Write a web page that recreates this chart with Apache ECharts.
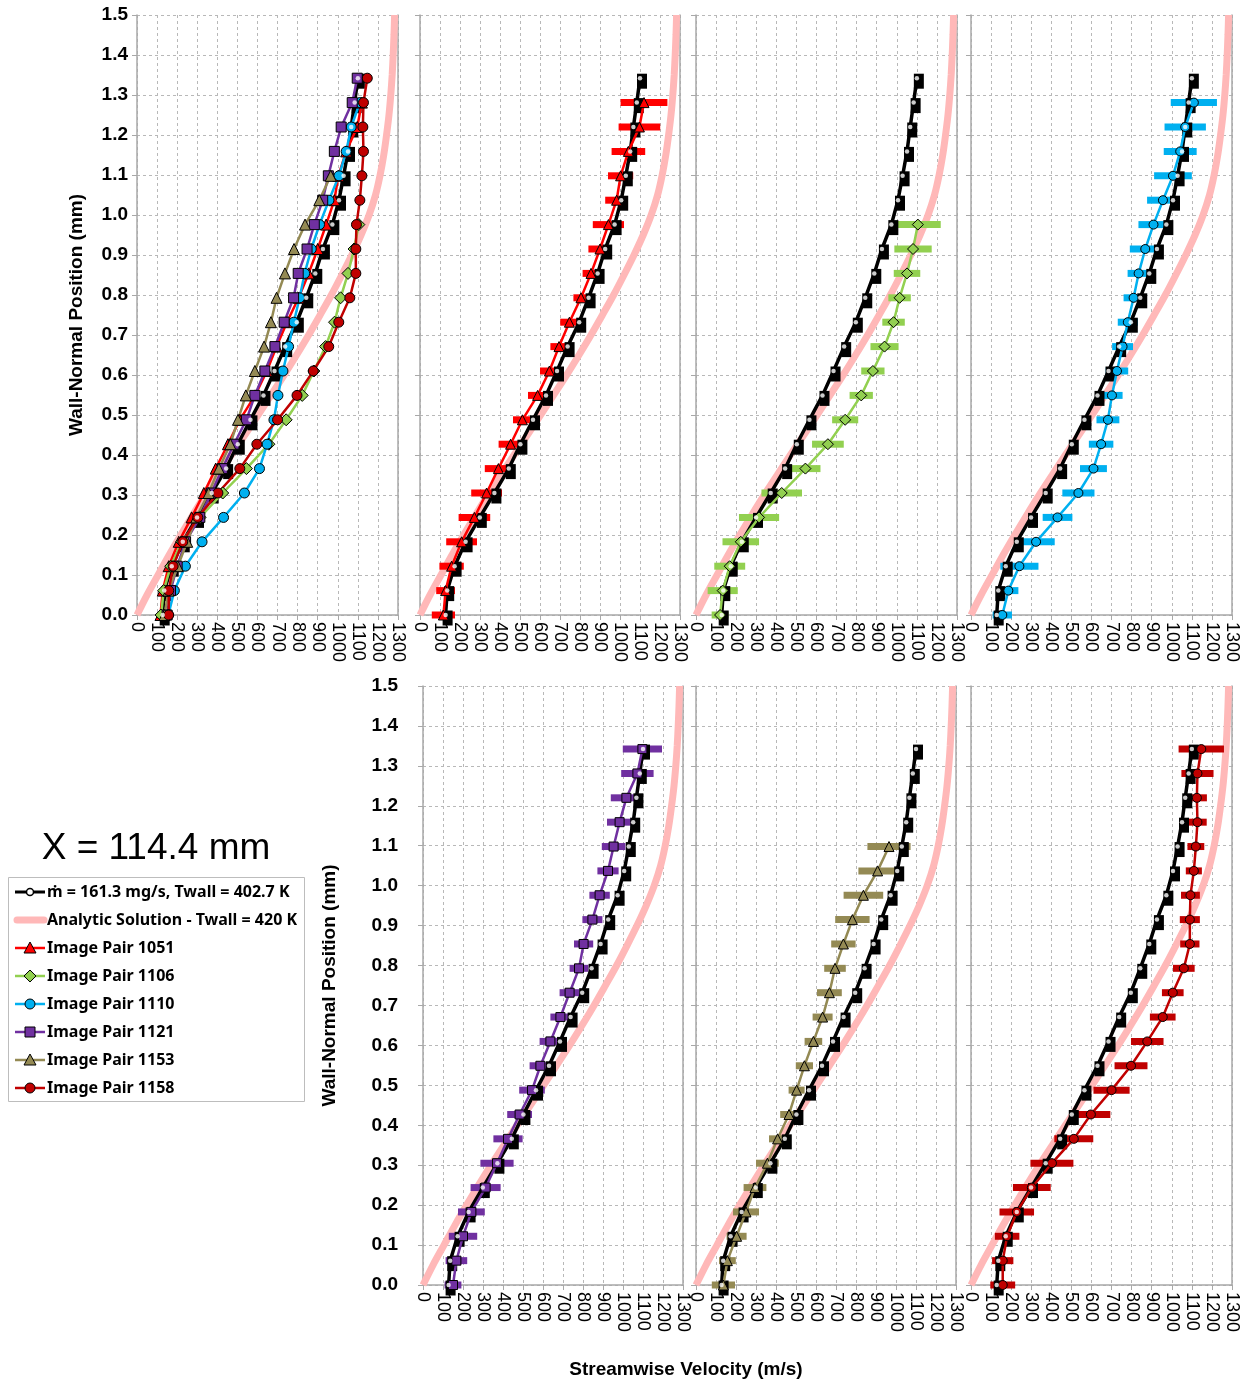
<!DOCTYPE html>
<html><head><meta charset="utf-8">
<script src="https://cdn.jsdelivr.net/npm/echarts@6/dist/echarts.min.js"></script>
<style>html,body{margin:0;padding:0;background:#fff}#c{width:1251px;height:1385px}</style>
</head><body><div id="c"></div><script>
// wall-normal positions (mm) of the measurement stations
const Y_POS = [0, 0.061, 0.122, 0.183, 0.244, 0.305, 0.366, 0.427, 0.488, 0.549, 0.610, 0.671, 0.732, 0.793, 0.854, 0.915, 0.976, 1.037, 1.098, 1.159, 1.220, 1.281, 1.342];
// reference profile: mdot = 161.3 mg/s, Twall = 402.7 K
const V_REF = [128, 136, 173, 228, 299, 372, 444, 502, 565, 630, 685, 738, 796, 843, 888, 926, 973, 1006, 1029, 1051, 1067, 1084, 1100];
// analytic solution
const PINK_Y = [0, 0.05, 0.10, 0.15, 0.20, 0.25, 0.30, 0.35, 0.40, 0.45, 0.50, 0.55, 0.60, 0.65, 0.70, 0.75, 0.80, 0.85, 0.90, 0.95, 1.00, 1.05, 1.10, 1.15, 1.20, 1.25, 1.30, 1.35, 1.40, 1.45, 1.50];
const PINK_V = [0, 50, 105, 160, 218, 278, 340, 405, 470, 537, 603, 668, 733, 795, 855, 912, 968, 1020, 1070, 1116, 1156, 1188, 1211, 1229, 1243, 1255, 1264, 1271, 1276, 1280, 1283];
// image pairs (velocity, half-width of error bar)
const V_1051 = [117, 128, 158, 208, 272, 333, 392, 453, 512, 588, 647, 695, 747, 805, 855, 900, 942, 983, 1003, 1042, 1097, 1120];
const E_1051 = [58, 47, 61, 77, 79, 77, 68, 60, 47, 48, 47, 43, 46, 38, 42, 58, 78, 57, 63, 84, 104, 117];
const V_1106 = [120, 133, 168, 223, 314, 427, 545, 657, 743, 823, 881, 939, 984, 1014, 1051, 1081, 1105];
const E_1106 = [42, 75, 77, 91, 100, 101, 75, 79, 65, 58, 58, 70, 56, 56, 66, 93, 114];
const V_1110 = [156, 186, 241, 324, 431, 535, 610, 648, 682, 702, 727, 755, 781, 810, 835, 868, 909, 956, 1006, 1042, 1067, 1110];
const E_1110 = [48, 50, 95, 93, 74, 80, 67, 61, 57, 53, 56, 52, 50, 50, 55, 77, 75, 79, 94, 82, 103, 115];
const V_1121 = [150, 167, 200, 242, 313, 370, 425, 483, 545, 587, 637, 687, 733, 780, 803, 847, 883, 925, 953, 983, 1017, 1072, 1097];
const E_1121 = [42, 54, 71, 67, 75, 83, 73, 62, 64, 54, 54, 50, 50, 47, 48, 50, 51, 53, 59, 63, 78, 81, 98];
const V_1153 = [137, 157, 203, 250, 295, 357, 408, 465, 503, 542, 587, 633, 667, 695, 737, 782, 837, 908, 965];
const E_1153 = [58, 42, 50, 65, 57, 57, 43, 44, 40, 43, 44, 50, 62, 54, 61, 86, 99, 96, 108];
const V_1158 = [158, 158, 180, 228, 303, 403, 512, 597, 700, 797, 878, 955, 1005, 1060, 1090, 1090, 1093, 1110, 1120, 1128, 1125, 1128, 1147];
const E_1158 = [62, 53, 61, 86, 94, 107, 97, 97, 90, 82, 81, 64, 54, 54, 48, 50, 47, 40, 42, 46, 50, 80, 113];

const NAME_REF = 'ṁ = 161.3 mg/s, Twall = 402.7 K';
const NAME_PINK = 'Analytic Solution - Twall = 420 K';
const PAIRS = [
  {name:'Image Pair 1051', color:'#ff0000', symbol:'triangle', v:V_1051, e:E_1051, panel:1},
  {name:'Image Pair 1106', color:'#92d050', symbol:'diamond', v:V_1106, e:E_1106, panel:2},
  {name:'Image Pair 1110', color:'#00b0f0', symbol:'circle', v:V_1110, e:E_1110, panel:3},
  {name:'Image Pair 1121', color:'#7030a0', symbol:'rect', v:V_1121, e:E_1121, panel:4},
  {name:'Image Pair 1153', color:'#948a54', symbol:'triangle', v:V_1153, e:E_1153, panel:5},
  {name:'Image Pair 1158', color:'#c00000', symbol:'circle', v:V_1158, e:E_1158, panel:6}
];

const FONT = '"Liberation Sans", Arial, sans-serif';
const AX = '#a8a8a8';
const GRIDS = [
  {left:137, top:15, width:261, height:600},
  {left:420, top:15, width:260, height:600},
  {left:696, top:15, width:261, height:600},
  {left:971, top:15, width:261, height:600},
  {left:423, top:686, width:260, height:599},
  {left:696, top:686, width:260, height:599},
  {left:971, top:686, width:261, height:599}
];

const xAxes = [], yAxes = [], series = [];
GRIDS.forEach((g, i) => {
  xAxes.push({type:'value', gridIndex:i, min:0, max:1300, interval:100,
    axisLine:{show:true, onZero:false, lineStyle:{color:AX, width:1.5}},
    axisTick:{show:true, length:5, lineStyle:{color:AX}},
    axisLabel:{rotate:-90, fontSize:18, color:'#000', margin:7, fontFamily:FONT, formatter:v => String(v)},
    splitLine:{show:true, lineStyle:{color:'#b8b8b8', type:[3,3], width:1}}});
  const showLab = (i === 0 || i === 4);
  yAxes.push({type:'value', gridIndex:i, min:0, max:1.5, interval:0.1,
    name: showLab ? 'Wall-Normal Position (mm)' : '', nameLocation:'middle',
    nameGap: i === 0 ? 51 : 84,
    nameTextStyle:{fontSize:19, fontWeight:'bold', color:'#000', fontFamily:FONT},
    axisLine:{show:true, onZero:false, lineStyle:{color:AX, width:1.5}},
    axisTick:{show:true, length:5, lineStyle:{color:AX}},
    axisLabel:{show:showLab, formatter:v => v.toFixed(1), fontSize:19, fontWeight:'bold', color:'#000', margin: i === 0 ? 9 : 25, fontFamily:FONT},
    splitLine:{show:true, lineStyle:{color:'#b8b8b8', type:[3,3], width:1}}});
});
GRIDS.forEach((g, i) => {
  yAxes.push({type:'value', gridIndex:i, position:'right', min:0, max:1.5, interval:0.1,
    axisLine:{show:true, onZero:false, lineStyle:{color:AX, width:1.5}},
    axisTick:{show:false}, axisLabel:{show:false}, splitLine:{show:false}});
});

function pinkSeries(i) {
  return {type:'line', name:NAME_PINK, xAxisIndex:i, yAxisIndex:i, z:1, silent:true, smooth:0.3,
    showSymbol:false, symbol:'none', lineStyle:{color:'#ffb8b8', width:7},
    data: PINK_V.map((v, k) => [v, PINK_Y[k]])};
}
function refSeries(i) {
  const d = V_REF.map((v, k) => [v, Y_POS[k]]);
  return [
    {type:'line', name:NAME_REF, xAxisIndex:i, yAxisIndex:i, z:3, silent:true,
      symbol:'rect', symbolSize:[10,15], symbolOffset:[2,3], itemStyle:{color:'#000'},
      lineStyle:{color:'#000', width:3.5}, data:d},
    {type:'scatter', xAxisIndex:i, yAxisIndex:i, z:6, silent:true,
      symbol:'circle', symbolSize:4.5, itemStyle:{color:'#fff'}, data:d}
  ];
}
function errSeries(p, i) {
  return {type:'custom', xAxisIndex:i, yAxisIndex:i, z:2, silent:true,
    data: p.v.map((v, k) => [v, Y_POS[k], p.e[k]]),
    encode:{x:0, y:1},
    renderItem(params, api) {
      const v = api.value(0), y = api.value(1), e = api.value(2);
      const a = api.coord([v - e, y]), b = api.coord([v + e, y]);
      return {type:'rect', shape:{x:a[0], y:a[1] - 3.5, width:b[0] - a[0], height:7}, style:{fill:p.color}};
    }};
}
function pairSeries(p, i, size) {
  return {type:'line', name:p.name, xAxisIndex:i, yAxisIndex:i, z:4, silent:true,
    symbol:p.symbol, symbolSize: p.symbol === 'triangle' ? size + 1 : (p.symbol === 'diamond' ? size + 2 : size),
    itemStyle:{color:p.color, borderColor:'#000', borderWidth:1},
    lineStyle:{color:p.color, width:2.5},
    data: p.v.map((v, k) => [v, Y_POS[k]])};
}

for (let i = 0; i < 7; i++) {
  series.push(pinkSeries(i));
  series.push(...refSeries(i));
}
PAIRS.forEach(p => { series.push(pairSeries(p, 0, 10)); });
PAIRS.forEach(p => { series.push(errSeries(p, p.panel)); series.push(pairSeries(p, p.panel, 9)); });

// legend (drawn as graphic)
const LEG_TOP = 877, ROW0 = 892, ROWH = 28;
const graphic = [
  {type:'text', x:156, y:849, style:{text:'X = 114.4 mm', font:'37px ' + FONT, fill:'#000', align:'center', verticalAlign:'middle'}},
  {type:'text', x:686, y:1370, style:{text:'Streamwise Velocity (m/s)', font:'bold 19px ' + FONT, fill:'#000', align:'center', verticalAlign:'middle'}},
  {type:'rect', shape:{x:8.5, y:LEG_TOP + 0.5, width:296, height:224}, style:{fill:'#fff', stroke:'#bdbdbd', lineWidth:1}}
];
const legRows = [{name:NAME_REF, kind:'ref'}, {name:NAME_PINK, kind:'pink'}].concat(PAIRS.map(p => ({name:p.name, kind:'pair', p})));
legRows.forEach((r, k) => {
  const cy = ROW0 + k * ROWH;
  if (r.kind === 'ref') {
    graphic.push({type:'line', shape:{x1:15, y1:cy, x2:45, y2:cy}, style:{stroke:'#000', lineWidth:3}});
    graphic.push({type:'circle', shape:{cx:30, cy:cy, r:3.5}, style:{fill:'#fff', stroke:'#000', lineWidth:1.5}});
  } else if (r.kind === 'pink') {
    graphic.push({type:'line', shape:{x1:17, y1:cy, x2:44, y2:cy}, style:{stroke:'#ffb8b8', lineWidth:7, lineCap:'round'}});
  } else {
    const c = r.p.color;
    graphic.push({type:'line', shape:{x1:15, y1:cy, x2:45, y2:cy}, style:{stroke:c, lineWidth:2.5}});
    const st = {fill:c, stroke:'#000', lineWidth:1};
    if (r.p.symbol === 'circle') graphic.push({type:'circle', shape:{cx:30, cy:cy, r:5}, style:st});
    else if (r.p.symbol === 'rect') graphic.push({type:'rect', shape:{x:25, y:cy - 5, width:10, height:10}, style:st});
    else if (r.p.symbol === 'triangle') graphic.push({type:'polygon', shape:{points:[[30, cy - 6], [36, cy + 5], [24, cy + 5]]}, style:st});
    else graphic.push({type:'polygon', shape:{points:[[30, cy - 6], [36, cy], [30, cy + 6], [24, cy]]}, style:st});
  }
  graphic.push({type:'text', x:47, y:cy, style:{text:r.name, font:'bold 16px "Noto Sans", sans-serif', fill:'#000', verticalAlign:'middle'}});
});

const chart = echarts.init(document.getElementById('c'), null, {renderer:'canvas'});
chart.setOption({animation:false, backgroundColor:'#fff', grid:GRIDS, xAxis:xAxes, yAxis:yAxes, series, graphic});
</script></body></html>
